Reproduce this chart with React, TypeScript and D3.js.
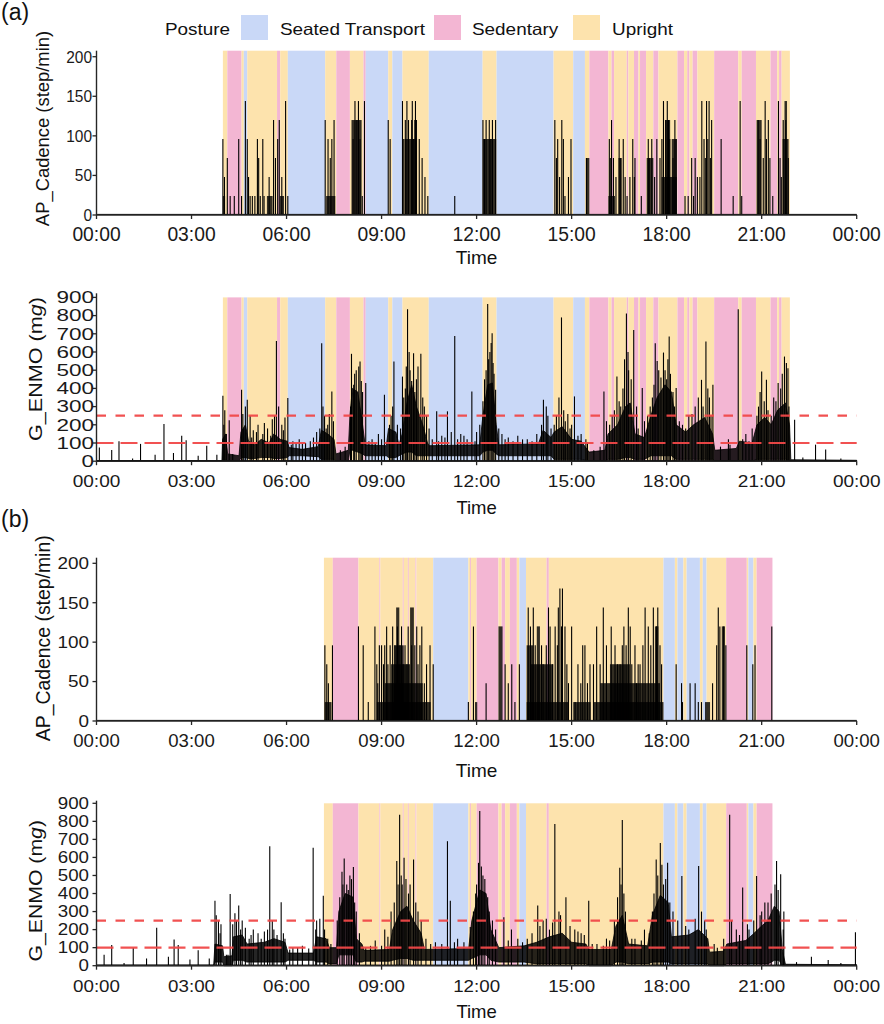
import React from 'react';
import * as d3 from 'd3';

// ---------- categories / ticks ----------
const postureCodes = ['S', 'D', 'U'];
const postureNames = ['Seated Transport', 'Sedentary', 'Upright'];
const postureColors = ['#c9d8f7', '#f3b6d3', '#fde3ad'];
const timeTicks = [0, 3, 6, 9, 12, 15, 18, 21, 24];
const timeTickLabels = ['00:00', '03:00', '06:00', '09:00', '12:00', '15:00', '18:00', '21:00', '00:00'];
const cadenceTicks = [0, 50, 100, 150, 200];
const enmoTicks = [0, 100, 200, 300, 400, 500, 600, 700, 800, 900];
const enmoThresholds = [250, 100];

// ---------- (a) posture segments [start h, end h, code] ----------
const postureA: [number, number, string][] = [
  [3.99, 4.13, 'U'], [4.13, 4.58, 'D'], [4.58, 4.65, 'U'], [4.65, 4.76, 'S'], [4.76, 5.70, 'U'],
  [5.70, 5.80, 'D'], [5.80, 6.04, 'U'], [6.04, 7.22, 'S'], [7.22, 7.57, 'U'], [7.57, 8.00, 'D'],
  [8.00, 8.43, 'U'], [8.43, 8.50, 'D'], [8.50, 9.21, 'S'], [9.21, 9.34, 'U'], [9.34, 9.66, 'S'],
  [9.66, 10.49, 'U'], [10.49, 12.19, 'S'], [12.19, 12.63, 'U'], [12.63, 14.43, 'S'], [14.43, 15.05, 'U'],
  [15.05, 15.42, 'S'], [15.42, 15.56, 'U'], [15.56, 16.16, 'D'], [16.16, 16.26, 'U'], [16.26, 16.34, 'D'],
  [16.34, 16.74, 'U'], [16.74, 16.79, 'D'], [16.79, 16.97, 'U'], [16.97, 17.11, 'D'], [17.11, 17.16, 'U'],
  [17.16, 17.35, 'D'], [17.35, 17.58, 'U'], [17.58, 17.74, 'D'], [17.74, 18.34, 'U'], [18.34, 18.55, 'D'],
  [18.55, 18.65, 'U'], [18.65, 18.72, 'D'], [18.72, 18.82, 'U'], [18.82, 18.97, 'D'], [18.97, 19.50, 'U'],
  [19.50, 20.26, 'D'], [20.26, 20.37, 'U'], [20.37, 20.82, 'D'], [20.82, 21.28, 'U'], [21.28, 21.49, 'D'],
  [21.49, 21.55, 'U'], [21.55, 21.63, 'D'], [21.63, 21.89, 'U'],
];

// ---------- (b) posture segments ----------
const postureB: [number, number, string][] = [
  [7.18, 7.46, 'U'], [7.46, 8.27, 'D'], [8.27, 8.93, 'U'], [8.93, 8.96, 'D'], [8.96, 9.67, 'U'],
  [9.67, 9.70, 'D'], [9.70, 9.83, 'U'], [9.83, 9.86, 'D'], [9.86, 10.07, 'U'], [10.07, 10.10, 'D'],
  [10.10, 10.63, 'U'], [10.63, 11.74, 'S'], [11.74, 11.79, 'U'], [11.79, 11.82, 'D'], [11.82, 12.00, 'U'],
  [12.00, 12.69, 'D'], [12.69, 12.79, 'U'], [12.79, 12.90, 'D'], [12.90, 13.05, 'U'], [13.05, 13.27, 'D'],
  [13.27, 13.35, 'U'], [13.35, 13.56, 'S'], [13.56, 14.21, 'U'], [14.21, 14.28, 'D'], [14.28, 17.90, 'U'],
  [17.90, 18.26, 'S'], [18.26, 18.34, 'U'], [18.34, 18.53, 'S'], [18.53, 18.63, 'U'], [18.63, 19.05, 'S'],
  [19.05, 19.14, 'U'], [19.14, 19.26, 'S'], [19.26, 19.88, 'U'], [19.88, 20.53, 'D'], [20.53, 20.58, 'U'],
  [20.58, 20.74, 'S'], [20.74, 20.84, 'U'], [20.84, 21.34, 'D'],
];

// ---------- (a) AP cadence: single epochs [h, step/min] and runs [start, end, step/min] ----------
const cadenceSpikesA: [number, number][] = [
  [3.99, 96], [4.04, 48], [4.13, 72], [4.22, 24], [4.35, 24], [4.49, 96], [4.58, 24], [4.70, 144], [4.76, 96],
  [4.80, 48], [4.85, 24], [4.92, 24], [5.00, 24], [5.08, 96], [5.12, 72], [5.17, 24], [5.25, 96], [5.29, 24],
  [5.45, 48], [5.59, 120], [5.65, 72], [5.72, 96], [5.77, 120], [5.85, 48], [5.97, 144], [6.04, 24],
  [7.22, 120], [7.31, 96], [7.38, 72], [7.43, 96], [7.50, 120], [8.10, 96], [8.16, 144], [8.22, 120],
  [8.27, 144], [8.32, 96], [8.39, 24], [8.46, 144],
  [9.21, 120], [9.27, 96], [9.66, 144], [9.70, 96], [9.75, 120], [9.80, 144], [9.85, 120], [9.95, 120], [9.97, 144],
  [10.00, 96], [10.05, 120], [10.07, 144], [10.10, 120], [10.19, 96], [10.28, 72], [10.37, 48], [10.46, 24], [11.31, 24],
  [12.20, 120], [12.25, 96], [12.30, 120], [12.40, 120], [12.45, 96], [12.50, 120], [12.60, 120],
  [14.47, 120], [14.52, 72], [14.56, 96], [14.62, 48], [14.69, 120], [14.74, 96], [14.79, 24], [14.90, 48], [14.98, 96],
  [15.47, 72], [16.19, 96], [16.22, 72], [16.26, 120], [16.32, 72], [16.40, 48], [16.50, 96], [16.55, 72],
  [16.63, 96], [16.69, 48], [16.75, 24], [16.84, 48], [16.93, 96], [16.98, 48], [17.00, 72], [17.20, 24],
  [17.42, 96], [17.45, 72], [17.53, 96], [17.62, 48], [17.69, 96], [17.79, 72], [17.85, 96], [17.90, 144],
  [17.97, 120], [18.02, 144], [18.06, 120], [18.10, 96], [18.20, 72], [18.26, 120], [18.30, 96],
  [18.58, 24], [18.68, 24], [18.79, 72], [18.85, 24], [18.90, 72], [18.97, 48], [19.05, 48], [19.11, 144],
  [19.18, 96], [19.22, 72], [19.26, 144], [19.30, 96], [19.34, 144], [19.38, 72], [19.42, 120], [19.72, 96],
  [20.10, 24], [20.32, 144], [20.37, 24], [20.89, 120], [20.95, 96], [21.05, 72], [21.11, 144], [21.15, 96],
  [21.21, 120], [21.26, 72], [21.35, 24], [21.53, 144], [21.58, 72], [21.62, 48], [21.68, 120], [21.76, 120], [21.84, 72],
];
const cadenceRunsA: [number, number, number][] = [
  [3.99, 4.06, 24], [5.38, 5.56, 24], [5.79, 5.92, 24], [7.25, 7.54, 24], [8.05, 8.37, 120],
  [9.73, 10.12, 96], [12.20, 12.62, 96], [15.45, 15.56, 72], [16.16, 16.37, 24], [16.48, 16.58, 72],
  [17.37, 17.58, 72], [17.84, 18.32, 48], [17.95, 18.11, 120], [18.16, 18.32, 96], [20.84, 21.00, 120],
  [21.66, 21.85, 96], [21.72, 21.80, 144],
];

// ---------- (b) AP cadence ----------
const cadenceSpikesB: [number, number][] = [
  [7.21, 96], [7.27, 72], [7.32, 48], [7.45, 96], [8.27, 120], [8.42, 96], [8.58, 24],
  [8.79, 120], [8.85, 72], [8.88, 48], [8.93, 96], [9.00, 96], [9.06, 72], [9.10, 96], [9.16, 120], [9.20, 72],
  [9.27, 96], [9.35, 120], [9.42, 96], [9.50, 120], [9.58, 96], [9.63, 120], [9.68, 72], [9.74, 96], [9.80, 72],
  [9.84, 120], [9.95, 96], [10.05, 96], [10.11, 120], [10.15, 72], [10.21, 96], [10.27, 120], [10.35, 48],
  [10.42, 72], [10.53, 96], [10.63, 72],
  [11.74, 24], [11.90, 120], [12.30, 48], [12.90, 72], [13.00, 48], [13.11, 72], [13.21, 24], [13.35, 72],
  [13.63, 144], [13.70, 120], [13.79, 144], [13.85, 96], [14.05, 96], [14.10, 72], [14.20, 96], [14.27, 144],
  [14.32, 120], [14.40, 72], [14.48, 120], [14.55, 96], [14.58, 144], [14.63, 168], [14.68, 120], [14.71, 168],
  [14.79, 120], [14.85, 72], [14.90, 48], [15.00, 120], [15.11, 24], [15.20, 72], [15.29, 48], [15.35, 96],
  [15.42, 96], [15.50, 48], [15.58, 72], [15.69, 72], [15.79, 120], [15.90, 72], [16.00, 144], [16.10, 96],
  [16.25, 120], [16.37, 96], [16.45, 72], [16.53, 72], [16.60, 96], [16.65, 120], [16.72, 96], [16.79, 144],
  [16.85, 120], [16.90, 72], [17.00, 96], [17.05, 48], [17.10, 72], [17.16, 72], [17.25, 96], [17.32, 144],
  [17.42, 120], [17.50, 96], [17.58, 144], [17.68, 120], [17.72, 144], [17.79, 96], [17.84, 72],
  [18.30, 72], [18.47, 48], [18.50, 24], [18.74, 48], [18.90, 48], [19.00, 24], [19.10, 24], [19.45, 48],
  [19.58, 96], [19.63, 144], [19.68, 120], [19.80, 120], [19.87, 96], [20.53, 96], [20.72, 72], [20.79, 96], [21.32, 120],
];
const cadenceRunsB: [number, number, number][] = [
  [7.21, 7.42, 24], [8.85, 10.55, 24], [9.10, 10.30, 48], [9.30, 9.90, 72], [9.40, 9.70, 96],
  [9.46, 9.56, 144], [9.90, 10.02, 144], [11.95, 12.02, 24], [12.69, 12.82, 120], [13.58, 14.90, 24],
  [13.69, 14.42, 72], [13.58, 13.79, 96], [13.90, 14.00, 120], [15.05, 15.60, 24], [15.70, 17.90, 24],
  [15.90, 17.79, 48], [16.21, 16.84, 72], [17.63, 17.74, 120], [19.21, 19.37, 24], [19.74, 19.84, 120],
];

// ---------- (a) G_ENMO: dense trace envelope [h, low, high] and peaks [h, mg] ----------
const enmoEnvelopeA: [number, number, number][] = [
  [0, 0, 3], [3.96, 0, 3], [3.98, 5, 120], [4.08, 5, 150], [4.14, 0, 40], [4.5, 0, 30], [4.56, 20, 160],
  [4.7, 20, 200], [4.8, 15, 110], [5.0, 15, 90], [5.2, 20, 120], [5.45, 20, 100], [5.6, 15, 150], [5.8, 15, 120],
  [6.02, 20, 110], [6.08, 30, 75], [6.5, 30, 65], [7.0, 25, 80], [7.1, 10, 170], [7.3, 10, 150], [7.5, 10, 120],
  [7.56, 0, 40], [7.95, 0, 60], [8.0, 60, 250], [8.08, 60, 400], [8.25, 50, 380], [8.4, 40, 200], [8.48, 30, 90],
  [9.15, 30, 85], [9.22, 20, 180], [9.45, 20, 160], [9.55, 30, 90], [9.65, 40, 150], [9.8, 50, 320],
  [9.95, 50, 420], [10.1, 30, 300], [10.3, 30, 200], [10.45, 30, 100], [10.5, 30, 85], [12.1, 30, 90],
  [12.2, 50, 250], [12.35, 60, 420], [12.5, 60, 430], [12.62, 40, 200], [12.7, 30, 90], [13.95, 30, 95],
  [14.1, 30, 170], [14.35, 30, 130], [14.45, 10, 160], [14.7, 10, 190], [15.0, 10, 120], [15.3, 10, 110],
  [15.55, 0, 50], [16.05, 0, 60], [16.15, 10, 150], [16.45, 10, 200], [16.7, 20, 300], [16.85, 20, 320],
  [17.0, 10, 150], [17.3, 10, 130], [17.5, 30, 250], [17.7, 30, 350], [17.95, 30, 420], [18.15, 30, 380],
  [18.3, 10, 200], [18.6, 10, 160], [18.85, 10, 200], [19.2, 10, 240], [19.45, 10, 150], [19.52, 0, 60],
  [20.2, 0, 70], [20.3, 0, 110], [20.7, 0, 100], [20.85, 10, 200], [21.1, 10, 240], [21.3, 10, 200],
  [21.5, 10, 280], [21.75, 10, 320], [21.88, 0, 200], [21.92, 0, 8], [24, 0, 5],
];
const enmoPeaksA: [number, number][] = [
  [0.09, 75], [0.48, 62], [0.71, 110], [1.14, 15], [1.39, 95], [1.85, 35], [2.13, 205], [2.43, 45], [2.69, 140],
  [2.83, 115], [3.21, 30], [3.48, 85], [3.8, 35], [3.99, 360], [4.02, 200], [4.05, 280], [4.1, 150], [4.19, 225],
  [4.3, 40], [4.58, 393], [4.62, 260], [4.65, 180], [4.7, 300], [4.76, 338], [4.85, 250], [4.9, 130], [4.95, 170],
  [5.05, 160], [5.1, 200], [5.25, 150], [5.3, 210], [5.4, 180], [5.5, 140], [5.55, 230], [5.62, 250], [5.68, 661],
  [5.75, 300], [5.85, 200], [5.9, 170], [5.95, 240], [6.04, 347], [6.15, 90], [6.2, 110], [6.3, 100], [6.4, 120],
  [6.5, 95], [6.6, 100], [6.75, 110], [6.85, 130], [6.95, 160], [7.05, 180], [7.11, 648], [7.15, 300], [7.2, 250],
  [7.25, 180], [7.3, 200], [7.35, 260], [7.43, 383], [7.48, 220], [7.7, 60], [7.85, 80], [8.02, 300], [8.05, 590],
  [8.12, 420], [8.15, 480], [8.2, 500], [8.28, 520], [8.32, 548], [8.36, 440], [8.4, 380], [8.5, 430], [8.6, 110],
  [8.7, 120], [8.8, 100], [8.9, 150], [9.0, 120], [9.09, 365], [9.25, 200], [9.3, 250], [9.35, 300], [9.39, 548],
  [9.5, 200], [9.6, 180], [9.66, 465], [9.7, 350], [9.75, 400], [9.78, 520], [9.82, 835], [9.87, 600], [9.9, 500],
  [9.95, 440], [10.01, 593], [10.05, 380], [10.1, 450], [10.15, 520], [10.24, 590], [10.3, 350], [10.35, 300],
  [10.42, 250], [10.5, 180], [10.6, 120], [10.74, 274], [10.8, 110], [10.9, 140], [11.0, 130], [11.08, 274],
  [11.2, 160], [11.31, 688], [11.4, 120], [11.5, 150], [11.6, 140], [11.7, 120], [11.85, 383], [11.95, 110],
  [12.0, 160], [12.1, 200], [12.2, 330], [12.25, 450], [12.3, 500], [12.35, 864], [12.38, 560], [12.42, 600],
  [12.46, 650], [12.49, 703], [12.52, 540], [12.55, 480], [12.6, 393], [12.7, 180], [12.8, 150], [12.9, 120],
  [13.0, 130], [13.15, 110], [13.3, 140], [13.45, 120], [13.6, 120], [13.75, 110], [13.9, 150], [14.05, 200],
  [14.11, 338], [14.2, 300], [14.25, 250], [14.35, 180], [14.45, 200], [14.52, 250], [14.6, 350], [14.68, 790],
  [14.75, 280], [14.8, 220], [14.88, 260], [14.95, 180], [15.0, 200], [15.09, 356], [15.2, 140], [15.3, 150],
  [15.45, 120], [15.5, 100], [15.7, 60], [15.9, 80], [16.02, 383], [16.1, 220], [16.2, 200], [16.28, 250],
  [16.35, 280], [16.43, 465], [16.5, 330], [16.55, 300], [16.62, 400], [16.67, 560], [16.73, 812], [16.78, 600],
  [16.8, 500], [16.88, 450], [16.96, 721], [17.05, 300], [17.1, 180], [17.23, 402], [17.3, 220], [17.4, 250],
  [17.48, 300], [17.55, 350], [17.6, 420], [17.64, 648], [17.7, 550], [17.75, 500], [17.82, 460], [17.9, 597],
  [17.95, 500], [18.0, 450], [18.04, 560], [18.08, 685], [18.12, 480], [18.2, 380], [18.25, 300], [18.3, 402],
  [18.4, 220], [18.5, 200], [18.6, 180], [18.7, 250], [18.8, 260], [18.9, 300], [19.0, 350], [19.1, 447],
  [19.15, 300], [19.24, 657], [19.3, 400], [19.35, 350], [19.4, 250], [19.46, 420], [19.7, 80], [19.95, 120],
  [20.0, 90], [20.26, 835], [20.4, 120], [20.5, 150], [20.6, 110], [20.7, 180], [20.85, 250], [20.9, 300],
  [20.95, 380], [21.0, 493], [21.08, 330], [21.15, 447], [21.2, 280], [21.3, 250], [21.38, 350], [21.45, 330],
  [21.52, 430], [21.6, 400], [21.65, 480], [21.72, 575], [21.78, 540], [21.83, 511], [21.86, 300],
  [22.04, 228], [22.3, 20], [22.7, 91], [23.02, 64], [23.5, 15],
];

// ---------- (b) G_ENMO ----------
const enmoEnvelopeB: [number, number, number][] = [
  [0, 0, 3], [3.7, 0, 3], [3.74, 20, 120], [3.98, 20, 110], [4.02, 0, 50], [4.28, 0, 55], [4.32, 30, 160],
  [4.6, 30, 170], [4.75, 20, 120], [5.3, 20, 130], [5.6, 20, 150], [5.95, 20, 130], [6.05, 30, 70], [6.85, 30, 70],
  [6.95, 20, 160], [7.25, 20, 150], [7.35, 10, 100], [7.58, 10, 100], [7.65, 60, 300], [7.85, 60, 400],
  [8.1, 60, 380], [8.2, 20, 150], [8.38, 20, 120], [8.45, 25, 85], [9.25, 25, 90], [9.35, 30, 200], [9.6, 40, 300],
  [9.8, 40, 330], [10.0, 30, 250], [10.25, 30, 180], [10.35, 30, 90], [11.75, 30, 95], [11.85, 40, 250],
  [12.1, 60, 420], [12.3, 60, 400], [12.45, 30, 200], [12.7, 20, 100], [13.5, 20, 110], [13.9, 10, 130],
  [14.3, 10, 160], [14.7, 10, 180], [15.0, 10, 130], [15.45, 10, 120], [15.55, 0, 90], [16.25, 0, 90],
  [16.4, 20, 220], [16.6, 20, 280], [16.8, 10, 120], [17.4, 10, 110], [17.55, 20, 280], [17.8, 20, 390],
  [18.05, 20, 350], [18.15, 10, 160], [18.7, 10, 170], [19.0, 10, 200], [19.3, 10, 150], [19.35, 0, 75],
  [19.8, 0, 80], [19.9, 10, 120], [20.5, 10, 140], [20.7, 10, 170], [21.0, 10, 220], [21.2, 10, 250],
  [21.4, 30, 330], [21.55, 30, 300], [21.65, 0, 90], [21.75, 0, 8], [24, 0, 5],
];
const enmoPeaksB: [number, number][] = [
  [0.24, 60], [0.48, 115], [0.87, 15], [1.16, 100], [1.58, 40], [1.9, 210], [2.27, 50], [2.45, 145], [2.58, 115],
  [2.95, 35], [3.21, 85], [3.56, 40], [3.74, 360], [3.78, 280], [3.85, 250], [3.9, 180], [3.93, 230], [4.1, 60],
  [4.15, 60], [4.22, 397], [4.3, 230], [4.37, 290], [4.42, 250], [4.49, 333], [4.55, 200], [4.6, 250], [4.7, 210],
  [4.82, 150], [4.88, 170], [4.95, 200], [5.1, 180], [5.2, 150], [5.3, 190], [5.4, 200], [5.47, 662], [5.55, 250],
  [5.6, 200], [5.7, 170], [5.83, 351], [5.9, 180], [5.95, 150], [6.1, 90], [6.2, 100], [6.35, 100], [6.5, 110],
  [6.7, 95], [6.84, 653], [6.92, 200], [6.95, 250], [7.05, 260], [7.16, 388], [7.2, 200], [7.3, 150], [7.4, 120],
  [7.6, 250], [7.68, 380], [7.75, 520], [7.78, 450], [7.82, 594], [7.9, 450], [7.95, 420], [8.0, 500], [8.05, 480],
  [8.11, 547], [8.15, 350], [8.2, 300], [8.3, 180], [8.5, 100], [8.65, 110], [8.8, 140], [9.0, 110], [9.1, 200],
  [9.2, 160], [9.3, 300], [9.4, 350], [9.48, 580], [9.52, 450], [9.57, 836], [9.62, 500], [9.65, 450], [9.71, 598],
  [9.77, 480], [9.85, 400], [9.9, 450], [10.01, 589], [10.08, 350], [10.15, 300], [10.25, 250], [10.4, 150],
  [10.55, 120], [10.7, 130], [10.9, 120], [11.08, 690], [11.17, 360], [11.3, 130], [11.4, 150], [11.6, 130],
  [11.8, 214], [11.9, 300], [11.97, 400], [12.0, 450], [12.06, 570], [12.1, 858], [12.15, 550], [12.2, 500],
  [12.26, 480], [12.35, 380], [12.4, 300], [12.5, 250], [12.6, 200], [12.86, 269], [13.0, 140], [13.1, 200],
  [13.3, 150], [13.45, 130], [13.6, 150], [13.75, 180], [13.93, 333], [14.0, 220], [14.1, 250], [14.2, 260],
  [14.3, 200], [14.4, 240], [14.47, 785], [14.6, 300], [14.65, 280], [14.82, 379], [14.95, 220], [15.1, 200],
  [15.2, 190], [15.3, 180], [15.4, 170], [15.54, 360], [15.65, 120], [15.8, 120], [16.0, 110], [16.1, 150],
  [16.2, 140], [16.35, 250], [16.45, 380], [16.52, 543], [16.56, 450], [16.6, 808], [16.65, 400], [16.7, 300],
  [16.9, 150], [17.0, 150], [17.2, 140], [17.3, 200], [17.45, 180], [17.55, 300], [17.6, 400], [17.67, 589],
  [17.72, 500], [17.8, 680], [17.85, 560], [17.9, 450], [17.97, 480], [18.03, 570], [18.1, 350], [18.2, 300],
  [18.35, 250], [18.48, 497], [18.6, 220], [18.7, 200], [18.9, 260], [19.01, 552], [19.1, 300], [19.2, 250],
  [19.25, 200], [19.5, 120], [19.6, 100], [19.8, 150], [19.99, 836], [20.05, 250], [20.2, 200], [20.3, 170],
  [20.4, 433], [20.55, 230], [20.6, 200], [20.75, 250], [20.84, 497], [20.95, 280], [21.0, 300], [21.1, 350],
  [21.2, 350], [21.3, 400], [21.42, 450], [21.47, 580], [21.52, 420], [21.6, 507], [21.68, 200], [21.7, 300],
  [22.1, 20], [22.57, 49], [23.1, 31], [23.5, 15], [23.96, 186],
];

const FONT = 'Liberation Sans, Arial, Helvetica, sans-serif';
const X0 = 96.5;
const X1 = 856.7;

type Lay = {
  top: number; y0: number; yMax: number; rectTop: number; ticks: number[];
  yFs: number; ySx: number; yRight: number;
  xFs: number; xSx: number; xBase: number;
  timeFs: number; timeBase: number;
  title: 'cad' | 'enmo'; tFs: number; tSl: number; tX: number; tY: number;
};

const layA1: Lay = { top: 50.7, y0: 215, yMax: 207.6, rectTop: 207.6, ticks: cadenceTicks, yFs: 16.3, ySx: 0.95, yRight: 92,
  xFs: 19.3, xSx: 1.0, xBase: 240.5, timeFs: 19, timeBase: 264, title: 'cad', tFs: 18.4, tSl: 1, tX: 49, tY: 128.5 };
const layA2: Lay = { top: 293.3, y0: 461.2, yMax: 922.5, rectTop: 900, ticks: enmoTicks, yFs: 16.3, ySx: 1.38, yRight: 94,
  xFs: 17, xSx: 1.12, xBase: 487.3, timeFs: 18.5, timeBase: 514, title: 'enmo', tFs: 18, tSl: 1.2, tX: 41.5, tY: 369 };
const layB1: Lay = { top: 557.7, y0: 721, yMax: 207.1, rectTop: 207.1, ticks: cadenceTicks, yFs: 16.3, ySx: 1.16, yRight: 89,
  xFs: 18.6, xSx: 1.0, xBase: 746.7, timeFs: 19, timeBase: 777, title: 'cad', tFs: 19.4, tSl: 1, tX: 49.5, tY: 638.3 };
const layB2: Lay = { top: 800.7, y0: 965.7, yMax: 914.4, rectTop: 900, ticks: enmoTicks, yFs: 15.6, ySx: 1.2, yRight: 89,
  xFs: 17.2, xSx: 1.09, xBase: 992.3, timeFs: 18.5, timeBase: 1018, title: 'enmo', tFs: 18, tSl: 1.18, tX: 41.5, tY: 890.8 };

const xs = d3.scaleLinear().domain([0, 24]).range([X0, X1]);

function Panel(props: {
  lay: Lay; posture: [number, number, string][];
  spikes: [number, number][]; runs?: [number, number, number][];
  envelope?: [number, number, number][]; thresholds?: number[];
}) {
  const { lay, posture, spikes, runs, envelope, thresholds } = props;
  const ys = d3.scaleLinear().domain([0, lay.yMax]).range([lay.y0, lay.top]);
  const colorOf = (c: string) => postureColors[postureCodes.indexOf(c)];
  const axisColor = '#262626';
  const area = d3.area<[number, number, number]>()
    .x((d) => xs(d[0])).y0((d) => ys(d[1])).y1((d) => ys(d[2]));
  return (
    <g>
      {posture.map((p, i) => (
        <rect key={'p' + i} x={xs(p[0])} width={Math.max(0.5, xs(p[1]) - xs(p[0]))}
          y={ys(lay.rectTop)} height={ys(0) - ys(lay.rectTop)} fill={colorOf(p[2])} />
      ))}
      {envelope && (
        <path d={area(envelope) || ''} fill="#000" fillOpacity={0.85} stroke="#000" strokeWidth={0.8} />
      )}
      {runs && runs.map((r, i) => (
        <rect key={'r' + i} x={xs(r[0])} width={xs(r[1]) - xs(r[0])} y={ys(r[2])}
          height={ys(0) - ys(r[2])} fill="#000" fillOpacity={0.8} />
      ))}
      {spikes.map((s, i) => (
        <line key={'s' + i} x1={xs(s[0])} x2={xs(s[0])} y1={ys(0)} y2={ys(s[1])} stroke="#000" strokeWidth={1.1} />
      ))}
      <line x1={X0} x2={X1} y1={ys(0) - 0.6} y2={ys(0) - 0.6} stroke="#000" strokeWidth={1} />
      {thresholds && thresholds.map((t, i) => (
        <line key={'t' + i} x1={X0} x2={X1} y1={ys(t)} y2={ys(t)} stroke="#f04848" strokeOpacity={0.95}
          strokeWidth={2.2} strokeDasharray={i === 0 ? '9.5 9.5' : '17 7'} />
      ))}
      <line x1={X0} x2={X0} y1={lay.top} y2={lay.y0} stroke={axisColor} strokeWidth={1.4} />
      <line x1={X0} x2={X1} y1={lay.y0} y2={lay.y0} stroke={axisColor} strokeWidth={1.4} />
      {lay.ticks.map((t) => (
        <g key={'yt' + t}>
          <line x1={X0 - 4} x2={X0} y1={ys(t)} y2={ys(t)} stroke={axisColor} strokeWidth={1.3} />
          <text transform={`translate(${lay.yRight},${ys(t) + lay.yFs * 0.36}) scale(${lay.ySx},1)`}
            fontSize={lay.yFs} textAnchor="end" fill="#1a1a1a">{t}</text>
        </g>
      ))}
      {timeTicks.map((t, i) => (
        <g key={'xt' + i}>
          <line x1={xs(t)} x2={xs(t)} y1={lay.y0} y2={lay.y0 + 4} stroke={axisColor} strokeWidth={1.3} />
          <text transform={`translate(${xs(t)},${lay.xBase}) scale(${lay.xSx},1)`}
            fontSize={lay.xFs} textAnchor="middle" fill="#1a1a1a">{timeTickLabels[i]}</text>
        </g>
      ))}
      <text x={(X0 + X1) / 2} y={lay.timeBase} fontSize={lay.timeFs} textAnchor="middle" fill="#111">Time</text>
      <text transform={`translate(${lay.tX},${lay.tY}) rotate(-90) scale(${lay.tSl},1)`} fontSize={lay.tFs}
        textAnchor="middle" fill="#111">
        {lay.title === 'cad' ? 'AP_Cadence (step/min)' : (<>G_ENMO (m<tspan fontStyle="italic">g</tspan>)</>)}
      </text>
    </g>
  );
}

const legendKeyX = [241, 434, 573];
const legendTextX = [280, 472, 612];

export default function App() {
  return (
    <svg width={884} height={1024} style={{ position: 'absolute', left: 0, top: 0, background: '#fff' }}
      fontFamily={FONT}>
      <rect width={884} height={1024} fill="#fff" />
      <text x={1} y={20} fontSize={23} fill="#111">(a)</text>
      <text x={1} y={527} fontSize={23} fill="#111">(b)</text>
      <text transform="translate(165,35) scale(1.16,1)" fontSize={16.3} fill="#111">Posture</text>
      {postureNames.map((n, i) => (
        <g key={n}>
          <rect x={legendKeyX[i]} y={15} width={27} height={25} fill={postureColors[i]} />
          <text transform={`translate(${legendTextX[i]},35) scale(1.16,1)`} fontSize={16.3} fill="#111">{n}</text>
        </g>
      ))}
      <Panel lay={layA1} posture={postureA} spikes={cadenceSpikesA} runs={cadenceRunsA} />
      <Panel lay={layA2} posture={postureA} spikes={enmoPeaksA} envelope={enmoEnvelopeA} thresholds={enmoThresholds} />
      <Panel lay={layB1} posture={postureB} spikes={cadenceSpikesB} runs={cadenceRunsB} />
      <Panel lay={layB2} posture={postureB} spikes={enmoPeaksB} envelope={enmoEnvelopeB} thresholds={enmoThresholds} />
    </svg>
  );
}
